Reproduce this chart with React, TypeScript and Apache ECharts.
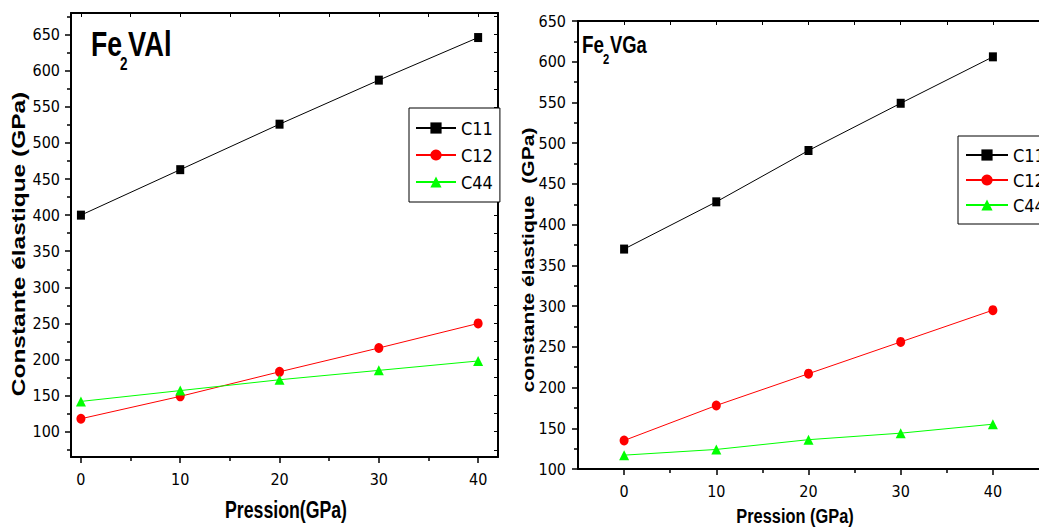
import React, { useEffect, useRef } from "react";
import * as echarts from "echarts";

const pressure = [0, 10, 20, 30, 40];
const seriesNames = ["C11", "C12", "C44"];
const vAlC11 = [400, 463, 526, 587, 646];
const vAlC12 = [118, 149, 183, 216, 250];
const vAlC44 = [142, 157, 172, 185, 198];
const vGaC11 = [370, 428, 491, 549, 606];
const vGaC12 = [135, 178, 217, 256, 295];
const vGaC44 = [117, 124, 136, 144, 155];

const xMajorTicks = [0, 10, 20, 30, 40];
const xMinorTicks = [5, 15, 25, 35];
const xTopTicks = [0, 5, 10, 15, 20, 25, 30, 35, 40];
const yLeftLabels = [100, 150, 200, 250, 300, 350, 400, 450, 500, 550, 600, 650];
const yLeftMinor = [75, 125, 175, 225, 275, 325, 375, 425, 475, 525, 575, 625, 675];
const yLeftRight = [75, 100, 125, 150, 175, 200, 225, 250, 275, 300, 325, 350, 375, 400, 425, 450, 475, 500, 525, 550, 575, 600, 625, 650, 675];
const yRightLabels = [100, 150, 200, 250, 300, 350, 400, 450, 500, 550, 600, 650];
const yRightMinor = [125, 175, 225, 275, 325, 375, 425, 475, 525, 575, 625];

const NARROW = "'Liberation Sans Narrow', 'Arial Narrow', 'DejaVu Sans Condensed', sans-serif";
const SANS = "'Liberation Sans', Arial, sans-serif";

export default function App() {
  const ref = useRef<HTMLDivElement>(null);
  useEffect(() => {
    if (!ref.current) return;
    const chart = echarts.init(ref.current, null, { renderer: "svg" });

    const mkX = (grid: number, min: number, max: number) => [
      {
        type: "value", gridIndex: grid, min, max, position: "bottom",
        axisLine: { show: true, onZero: false, lineStyle: { color: "#000", width: 2 } },
        axisTick: { show: true, inside: false, length: 6, customValues: xMajorTicks, lineStyle: { color: "#000", width: 1.5 } },
        axisLabel: { show: true, customValues: xMajorTicks, margin: 14, fontFamily: NARROW, fontSize: 16, color: "#000" },
        splitLine: { show: false },
      },
      {
        type: "value", gridIndex: grid, min, max, position: "bottom",
        axisLine: { show: false, onZero: false },
        axisTick: { show: true, inside: false, length: 4, customValues: xMinorTicks, lineStyle: { color: "#000", width: 1.5 } },
        axisLabel: { show: false },
        splitLine: { show: false },
      },
      {
        type: "value", gridIndex: grid, min, max, position: "top",
        axisLine: { show: true, onZero: false, lineStyle: { color: "#000", width: 2 } },
        axisTick: { show: true, inside: true, length: 4, customValues: xTopTicks, lineStyle: { color: "#000", width: 1 } },
        axisLabel: { show: false },
        splitLine: { show: false },
      },
    ];

    const mkY = (grid: number, min: number, max: number, labels: number[], minor: number[], margin: number) => [
      {
        type: "value", gridIndex: grid, min, max, position: "left",
        axisLine: { show: true, onZero: false, lineStyle: { color: "#000", width: 2 } },
        axisTick: { show: true, inside: false, length: 6, customValues: labels, lineStyle: { color: "#000", width: 1.5 } },
        axisLabel: { show: true, customValues: labels, margin, fontFamily: NARROW, fontSize: 16, color: "#000" },
        splitLine: { show: false },
      },
      {
        type: "value", gridIndex: grid, min, max, position: "left",
        axisLine: { show: false, onZero: false },
        axisTick: { show: true, inside: false, length: 4, customValues: minor, lineStyle: { color: "#000", width: 1.5 } },
        axisLabel: { show: false },
        splitLine: { show: false },
      },
    ];

    const xAxis = [...mkX(0, -1, 42), ...mkX(1, -5, 45)];
    const yAxis = [
      ...mkY(0, 65, 680, yLeftLabels, yLeftMinor, 11),
      {
        type: "value", gridIndex: 0, min: 65, max: 680, position: "right",
        axisLine: { show: true, onZero: false, lineStyle: { color: "#000", width: 2 } },
        axisTick: { show: true, inside: true, length: 4, customValues: yLeftRight, lineStyle: { color: "#000", width: 1 } },
        axisLabel: { show: false },
        splitLine: { show: false },
      },
      ...mkY(1, 100, 650, yRightLabels, yRightMinor, 12),
    ];

    const styles = [
      { color: "#000000", symbol: "rect", symbolSize: [8, 9] },
      { color: "#ff0000", symbol: "circle", symbolSize: [9, 10] },
      { color: "#00ff00", symbol: "triangle", symbolSize: [10, 10] },
    ];
    const leftData = [vAlC11, vAlC12, vAlC44];
    const rightData = [vGaC11, vGaC12, vGaC44];
    const series: any[] = [];
    leftData.forEach((vals, i) => {
      series.push({
        type: "line", name: seriesNames[i], xAxisIndex: 0, yAxisIndex: 0,
        data: pressure.map((p, k) => [p, vals[k]]),
        symbol: styles[i].symbol, symbolSize: styles[i].symbolSize,
        lineStyle: { color: styles[i].color, width: 1 },
        itemStyle: { color: styles[i].color },
      });
    });
    rightData.forEach((vals, i) => {
      series.push({
        type: "line", name: seriesNames[i], xAxisIndex: 3, yAxisIndex: 3,
        data: pressure.map((p, k) => [p, vals[k]]),
        symbol: styles[i].symbol, symbolSize: styles[i].symbolSize,
        lineStyle: { color: styles[i].color, width: 1 },
        itemStyle: { color: styles[i].color },
      });
    });

    const legendBase = {
      orient: "vertical",
      data: seriesNames,
      borderColor: "#000",
      borderWidth: 1,
      backgroundColor: "#fff",
      itemWidth: 40,
      itemHeight: 14,
      itemGap: 9,
      textStyle: { fontFamily: NARROW, fontSize: 18, color: "#000" },
      selectedMode: false,
    };

    const txt = (text: string, x: number, y: number, size: number, opts: any = {}) => ({
      type: "text", x, y, scaleX: opts.scaleX ?? 1, scaleY: opts.scaleY ?? 1, rotation: opts.rotation ?? 0,
      style: {
        text, fontFamily: SANS, fontWeight: "bold", fontSize: size, fill: "#000",
        align: opts.align ?? "left", verticalAlign: "middle",
      },
    });

    chart.setOption({
      animation: false,
      backgroundColor: "#fff",
      grid: [
        { left: 71, top: 13, width: 427, height: 444 },
        { left: 578, top: 21, width: 471, height: 448 },
      ],
      xAxis, yAxis, series,
      legend: [
        { ...legendBase, left: 409, top: 108, padding: [11, 7, 11, 6], itemGap: 9 },
        { ...legendBase, left: 958, top: 136, padding: [10, 7, 10, 7], itemGap: 7, itemWidth: 42 },
      ],
      graphic: [
        txt("Fe", 91, 44, 35, { scaleX: 0.76 }),
        txt("2", 120, 64, 18, { scaleX: 0.75 }),
        txt("VAl", 128, 44, 35, { scaleX: 0.78 }),
        txt("Fe", 582, 45, 23, { scaleX: 0.82 }),
        txt("2", 603, 60, 14, { scaleX: 0.8 }),
        txt("VGa", 610, 45, 23, { scaleX: 0.8 }),
        txt("Constante élastique (GPa)", 19, 244, 18, { rotation: Math.PI / 2, scaleX: 1.36, align: "center" }),
        txt("constante élastique  (GPa)", 528, 260, 16, { rotation: Math.PI / 2, scaleX: 1.32, align: "center" }),
        txt("Pression(GPa)", 286, 510, 23, { scaleX: 0.77, align: "center" }),
        txt("Pression (GPa)", 795, 516, 21, { scaleX: 0.78, align: "center" }),
      ],
    });
    return () => chart.dispose();
  }, []);
  return <div ref={ref} style={{ position: "absolute", left: 0, top: 0, width: 1039, height: 529 }} />;
}
